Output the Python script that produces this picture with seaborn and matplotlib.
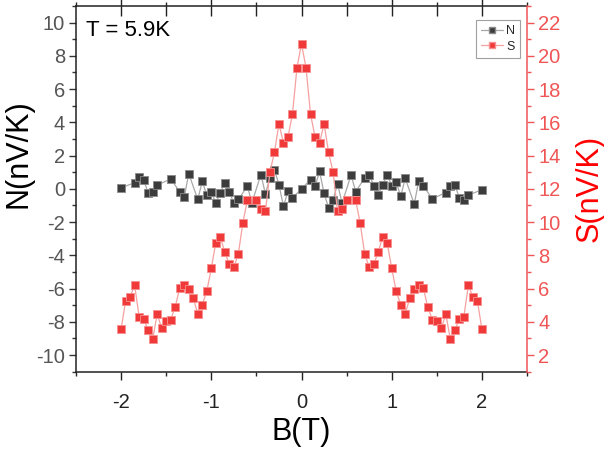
import matplotlib
matplotlib.use("Agg")
import matplotlib.pyplot as plt
from matplotlib.lines import Line2D
from matplotlib.ticker import MultipleLocator
import numpy as np
import pandas as pd
import seaborn as sns

# Nernst signal N (left axis)
b_n = [-2.0, -1.85, -1.8, -1.75, -1.7, -1.65, -1.6, -1.45, -1.35, -1.3, -1.25,
       -1.15, -1.1, -1.05, -1.0, -0.95, -0.9, -0.85, -0.8, -0.75, -0.7, -0.6,
       -0.55, -0.45, -0.4, -0.35, -0.3, -0.25, -0.2, -0.15, -0.1, 0.0,
       0.1, 0.15, 0.2, 0.25, 0.3, 0.35, 0.4, 0.45, 0.55, 0.6, 0.7, 0.75, 0.8,
       0.85, 0.9, 0.95, 1.0, 1.05, 1.1, 1.15, 1.25, 1.3, 1.35, 1.45, 1.6, 1.65,
       1.7, 1.75, 1.8, 1.85, 2.0]
n_vals = [0.05, 0.38, 0.70, 0.56, -0.26, -0.16, 0.22, 0.60, -0.18, -0.50, 0.92,
          -0.64, 0.46, -0.40, -0.20, -0.85, -0.24, 0.36, -0.20, -0.86, -0.64, 0.16,
          -0.84, 0.86, -0.30, 0.66, 1.15, 0.25, -1.05, -0.15, -0.55, 0.0,
          0.55, 0.15, 1.05, -0.25, -1.15, -0.66, 0.30, -0.86, 0.84, -0.16, 0.64,
          0.86, 0.20, -0.36, 0.24, 0.85, 0.20, 0.40, -0.46, 0.64, -0.92, 0.50,
          0.18, -0.60, -0.22, 0.16, 0.26, -0.56, -0.70, -0.38, -0.05]

# Seebeck signal S (right axis)
b_s = [-2.0, -1.95, -1.9, -1.85, -1.8, -1.75, -1.7, -1.65, -1.6, -1.55, -1.5,
       -1.45, -1.4, -1.35, -1.3, -1.25, -1.2, -1.15, -1.1, -1.05, -1.0, -0.95,
       -0.9, -0.85, -0.8, -0.75, -0.7, -0.65, -0.6, -0.5, -0.45, -0.4, -0.35,
       -0.3, -0.25, -0.2, -0.15, -0.1, -0.05, 0.0, 0.05, 0.1, 0.15, 0.2, 0.25,
       0.3, 0.35, 0.4, 0.45, 0.5, 0.6, 0.65, 0.7, 0.75, 0.8, 0.85, 0.9, 0.95,
       1.0, 1.05, 1.1, 1.15, 1.2, 1.25, 1.3, 1.35, 1.4, 1.45, 1.5, 1.55, 1.6,
       1.65, 1.7, 1.75, 1.8, 1.85, 1.9, 1.95, 2.0]
s_vals = [3.56, 5.26, 5.50, 6.20, 4.30, 4.16, 3.50, 2.96, 4.46, 3.62, 4.02,
          4.14, 4.88, 6.06, 6.22, 5.98, 5.42, 4.50, 5.04, 5.84, 7.22, 8.76,
          9.10, 8.18, 7.46, 7.28, 8.10, 9.96, 11.32, 11.34, 10.78, 10.64, 13.00,
          14.20, 15.92, 14.76, 15.12, 16.50, 19.30, 20.72, 19.30, 16.50, 15.12,
          14.76, 15.92, 14.20, 13.00, 10.64, 10.78, 11.34, 11.32, 9.96, 8.10,
          7.28, 7.46, 8.18, 9.10, 8.76, 7.22, 5.84, 5.04, 4.50, 5.42, 5.98,
          6.22, 6.06, 4.88, 4.14, 4.02, 3.62, 4.46, 2.96, 3.50, 4.16, 4.30,
          6.20, 5.50, 5.26, 3.56]

x_ticks = [-2, -1, 0, 1, 2]
n_ticks = [-10, -8, -6, -4, -2, 0, 2, 4, 6, 8, 10]
s_ticks = [2, 4, 6, 8, 10, 12, 14, 16, 18, 20, 22]

df_n = pd.DataFrame({"B": b_n, "N": n_vals})
df_s = pd.DataFrame({"B": b_s, "S": s_vals})

N_COLOR = "#3c3c3c"
N_EDGE = "#8a8a8a"
N_LINE = "#a8a8a8"
S_COLOR = "#f03a3a"
S_EDGE = "#f79090"
S_LINE = "#f6a0a0"
S_AXIS = "#f05555"

sns.set_style("ticks")
plt.rcParams["font.family"] = ["Liberation Sans", "DejaVu Sans"]

fig = plt.figure(figsize=(6.04, 4.54), dpi=100)
ax = fig.add_axes([76 / 604, 1 - 371.7 / 454, 451 / 604, 365.7 / 454])
ax2 = ax.twinx()

# N on the left axis
sns.lineplot(data=df_n, x="B", y="N", ax=ax, color=N_LINE, linewidth=0.9,
             estimator=None, sort=False, legend=False)
sns.scatterplot(data=df_n, x="B", y="N", ax=ax, marker="s", s=34,
                color=N_COLOR, edgecolor=N_EDGE, linewidth=0.6, legend=False,
                zorder=3)

# S on the right axis
sns.lineplot(data=df_s, x="B", y="S", ax=ax2, color=S_LINE, linewidth=0.9,
             estimator=None, sort=False, legend=False)
sns.scatterplot(data=df_s, x="B", y="S", ax=ax2, marker="s", s=34,
                color=S_COLOR, edgecolor=S_EDGE, linewidth=0.6, legend=False,
                zorder=3)

ax.set_xlim(-2.5, 2.5)
ax.set_ylim(-11, 11)
ax2.set_ylim(1, 23)

ax.set_xticks(x_ticks)
ax.set_xticklabels([str(v) for v in x_ticks])
ax.xaxis.set_minor_locator(MultipleLocator(0.5))
ax.set_yticks(n_ticks)
ax.set_yticklabels([str(v) for v in n_ticks])
ax.yaxis.set_minor_locator(MultipleLocator(1))
ax2.set_yticks(s_ticks)
ax2.set_yticklabels([str(v) for v in s_ticks])
ax2.yaxis.set_minor_locator(MultipleLocator(1))

ax.tick_params(axis="x", which="major", direction="out", length=6, width=1,
               labelsize=14.5, pad=9, colors="#222222", top=True)
ax.tick_params(axis="x", which="minor", direction="out", length=3, width=1,
               top=True)
ax.tick_params(axis="y", which="major", direction="out", length=5, width=1,
               labelsize=14.5, pad=3, colors="#333333", labelcolor="#555555")
ax.tick_params(axis="y", which="minor", direction="out", length=3, width=1,
               colors="#333333")
ax2.tick_params(axis="y", which="major", direction="out", length=5, width=1,
                labelsize=14.5, pad=3, colors=S_AXIS)
ax2.tick_params(axis="y", which="minor", direction="out", length=3, width=1,
                colors=S_AXIS)

# mirrored ticks on the top spine point inward
sec = ax.secondary_xaxis("top")
sec.set_xticks([-2, -1.5, -1, -0.5, 0, 0.5, 1, 1.5, 2])
sec.tick_params(direction="in", length=7, width=1, labeltop=False,
                colors="#222222")
sec.spines["top"].set_visible(False)

for sp in ("left", "bottom", "top"):
    ax.spines[sp].set_color("#222222")
    ax.spines[sp].set_linewidth(1.1)
ax.spines["right"].set_visible(False)
for sp in ("left", "bottom", "top"):
    ax2.spines[sp].set_visible(False)
ax2.spines["right"].set_color(S_AXIS)
ax2.spines["right"].set_linewidth(1.1)

ax.set_xlabel("B(T)", fontsize=22, labelpad=4, color="black")
ax.set_ylabel("N(nV/K)", fontsize=22, color="black")
ax.yaxis.set_label_coords(-0.094, 0.595)
ax2.set_ylabel("S(nV/K)", fontsize=22, color="#ff0000")
ax2.yaxis.set_label_coords(1.106, 0.5)

ax.text(0.022, 0.918, "T = 5.9K", transform=ax.transAxes, fontsize=16,
        va="baseline", ha="left", color="black")

handles = [
    Line2D([], [], color=N_LINE, linewidth=0.9, marker="s", markersize=5,
           markerfacecolor=N_COLOR, markeredgecolor=N_EDGE),
    Line2D([], [], color=S_LINE, linewidth=0.9, marker="s", markersize=5,
           markerfacecolor=S_COLOR, markeredgecolor=S_EDGE),
]
leg = ax2.legend(handles, ["N", "S"], loc="upper right",
                 bbox_to_anchor=(0.985, 0.962), fontsize=9, frameon=True,
                 fancybox=False, edgecolor="#888888", handlelength=1.8,
                 handletextpad=0.25, borderpad=0.4, labelspacing=0.3,
                 borderaxespad=0)
leg.get_frame().set_linewidth(0.8)

fig.savefig("out.png", dpi=100)
